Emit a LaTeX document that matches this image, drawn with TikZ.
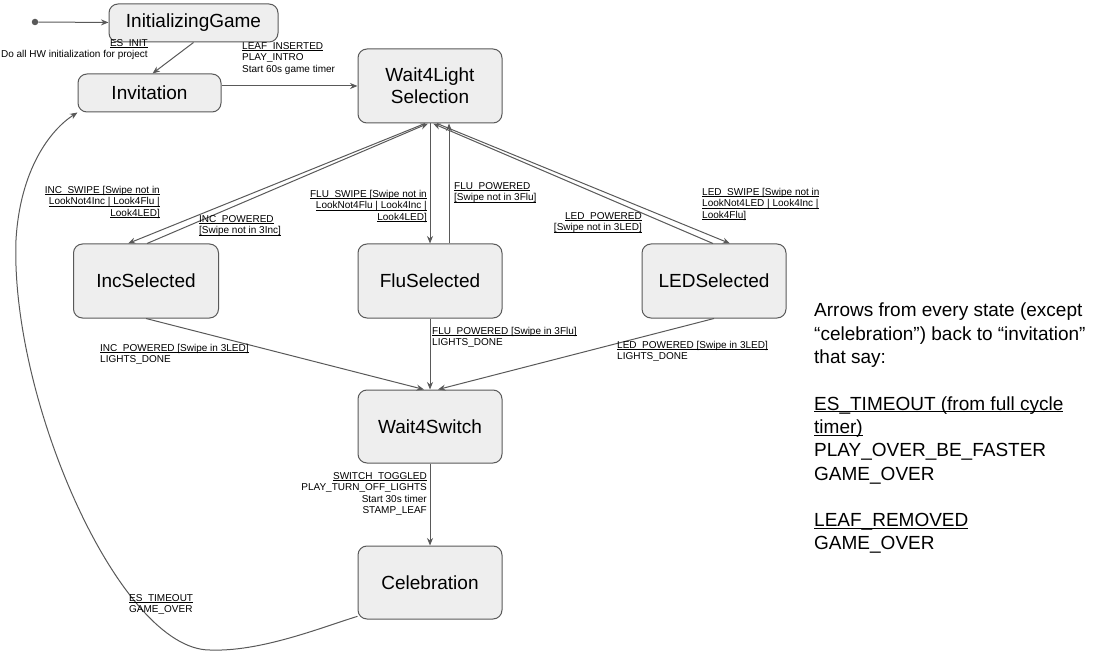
\documentclass[tikz,border=0pt]{standalone}
\usepackage{fontspec}
\setmainfont{Liberation Sans}
\usetikzlibrary{calc,arrows.meta}
\definecolor{edgec}{HTML}{595959}
\definecolor{fillc}{HTML}{EEEEEE}
\newcommand{\uln}[1]{\underline{\smash{#1}}}
\tikzset{
  state/.style={draw=edgec, fill=fillc, line width=1pt, rounded corners=9pt, inner sep=0pt,
    font={\fontsize{19}{22}\selectfont}, align=center},
  arr/.style={draw=edgec, line width=1pt, -{Stealth[length=7.5pt,width=6pt]}},
  lbl/.style={inner sep=0pt, font={\fontsize{10}{11.5}\selectfont}},
  note/.style={inner sep=0pt, font={\fontsize{19}{23.3}\selectfont}, align=left, anchor=north west}
}
\begin{document}
\begin{tikzpicture}[x=1pt,y=-1pt]
\useasboundingbox (0,0) rectangle (1100,652);
% states
\node[state, minimum width=169pt, minimum height=38pt] (init) at (193.5,23) {InitializingGame};
\node[state, minimum width=143pt, minimum height=38pt] (inv) at (149.5,93) {Invitation};
\node[state, minimum width=144pt, minimum height=74pt] (w4l) at (430,86) {Wait4Light\\Selection};
\node[state, minimum width=145pt, minimum height=74pt] (inc) at (146,281) {IncSelected};
\node[state, minimum width=144pt, minimum height=74pt] (flu) at (430,281) {FluSelected};
\node[state, minimum width=144pt, minimum height=74pt] (led) at (714,281) {LEDSelected};
\node[state, minimum width=144pt, minimum height=73pt] (w4s) at (430,426.5) {Wait4Switch};
\node[state, minimum width=144pt, minimum height=73pt] (cel) at (430,582.5) {Celebration};
\node[circle, fill=edgec, inner sep=0pt, minimum size=6.5pt] (start) at (35,22) {};
% connectors
\draw[arr] (start) -- (init);
\draw[arr] (init.south) -- ($(inv.north)+(3,0)$);
\draw[arr] (inv.east |- w4l.west) -- (w4l.west);
\draw[arr] ($(w4l.south)+(-5,0)$) -- ($(inc.north)+(-18,0)$);
\draw[arr] ($(inc.north)+(1,0)$) -- ($(w4l.south)+(-2,0)$);
\draw[arr] (w4l.south) -- (flu.north);
\draw[arr] ($(flu.north)+(19,0)$) -- ($(w4l.south)+(19,0)$);
\draw[arr] ($(led.north)+(-1,0)$) -- ($(w4l.south)+(3,0)$);
\draw[arr] ($(w4l.south)+(7,0)$) -- ($(led.north)+(16,0)$);
\draw[arr] (inc.south) -- ($(w4s.north)+(-6,0)$);
\draw[arr] (flu.south) -- (w4s.north);
\draw[arr] (led.south) -- ($(w4s.north)+(8,0)$);
\draw[arr] (w4s.south) -- (cel.north);
\draw[arr] (cel.205) .. controls (320,628) and (260,652) .. (210,650)
  .. controls (120,650) and (10,400) .. (16,240)
  .. controls (20,170) and (50,130) .. (inv.south west);
% labels
\node[lbl, align=right, anchor=north east] (l1) at (148,46) {\uln{ES\_INIT}\\Do all HW initialization for project};
\node[lbl, align=left, anchor=north west] (l2) at (242,49) {\uln{LEAF\_INSERTED}\\PLAY\_INTRO\\Start 60s game timer};
\node[lbl, align=right, anchor=north east] (l3) at (160,193) {\uln{INC\_SWIPE [Swipe not in}\\\uln{LookNot4Inc | Look4Flu |}\\\uln{Look4LED]}};
\node[lbl, align=left, anchor=north west] (l4) at (199,222) {\uln{INC\_POWERED}\\\uln{[Swipe not in 3Inc]}};
\node[lbl, align=right, anchor=north east] (l5) at (427,197) {\uln{FLU\_SWIPE [Swipe not in}\\\uln{LookNot4Flu | Look4Inc |}\\\uln{Look4LED]}};
\node[lbl, align=left, anchor=north west] (l6) at (454,189) {\uln{FLU\_POWERED}\\\uln{[Swipe not in 3Flu]}};
\node[lbl, align=right, anchor=north east] (l7) at (642,219) {\uln{LED\_POWERED}\\\uln{[Swipe not in 3LED]}};
\node[lbl, align=left, anchor=north west] (l8) at (702,195) {\uln{LED\_SWIPE [Swipe not in}\\\uln{LookNot4LED | Look4Inc |}\\\uln{Look4Flu]}};
\node[lbl, align=left, anchor=north west] (l9) at (100,351) {\uln{INC\_POWERED [Swipe in 3LED]}\\LIGHTS\_DONE};
\node[lbl, align=left, anchor=north west] (l10) at (432,334) {\uln{FLU\_POWERED [Swipe in 3Flu]}\\LIGHTS\_DONE};
\node[lbl, align=left, anchor=north west] (l11) at (617,348) {\uln{LED\_POWERED [Swipe in 3LED]}\\LIGHTS\_DONE};
\node[lbl, align=right, anchor=north east] (l12) at (427,479) {\uln{SWITCH\_TOGGLED}\\PLAY\_TURN\_OFF\_LIGHTS\\Start 30s timer\\STAMP\_LEAF};
\node[lbl, align=left, anchor=north west] (l13) at (129,601) {\uln{ES\_TIMEOUT}\\GAME\_OVER};
\node[note] (nt) at (814,303) {Arrows from every state (except\\“celebration”) back to “invitation”\\that say:\\\mbox{}\\\uln{ES\_TIMEOUT (from full cycle}\\\uln{timer)}\\PLAY\_OVER\_BE\_FASTER\\GAME\_OVER\\\mbox{}\\\uln{LEAF\_REMOVED}\\GAME\_OVER};
\end{tikzpicture}
\end{document}
